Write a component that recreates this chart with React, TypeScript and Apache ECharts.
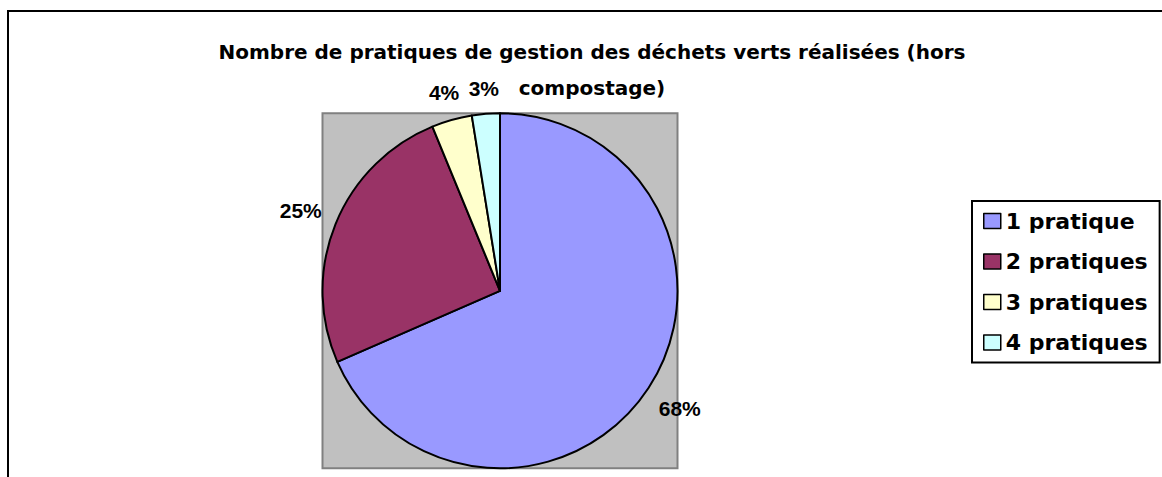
import React, { useEffect, useRef } from "react";
import * as echarts from "echarts";

const titleLines = [
  "Nombre de pratiques de gestion des déchets verts réalisées (hors",
  "compostage)",
];
const categories = ["1 pratique", "2 pratiques", "3 pratiques", "4 pratiques"];
const values = [68.45, 25.33, 3.68, 2.54];
const colors = ["#9999FF", "#993366", "#FFFFCC", "#CCFFFF"];

const CX = 500;
const CY = 290.8;
const R = 177.5;

export default function App() {
  const ref = useRef<HTMLDivElement>(null);
  useEffect(() => {
    if (!ref.current) return;
    const chart = echarts.init(ref.current, undefined, { renderer: "svg" });
    const total = values.reduce((a, b) => a + b, 0);
    const option: any = {
      animation: false,
      backgroundColor: "#FFFFFF",
      title: {
        text: titleLines.join("\n"),
        left: 592,
        top: 34,
        padding: 0,
        textAlign: "center",
        textStyle: {
          fontFamily: "DejaVu Sans",
          fontWeight: "bold",
          fontSize: 20,
          lineHeight: 36,
          color: "#000",
        },
      },
      legend: {
        orient: "vertical",
        left: 972,
        top: 201,
        padding: [9, 12, 9, 11],
        itemGap: 18.5,
        itemWidth: 17,
        itemHeight: 15,
        borderColor: "#000",
        borderWidth: 2,
        backgroundColor: "#FFFFFF",
        icon: "rect",
        itemStyle: { borderColor: "#000", borderWidth: 1.5 },
        textStyle: {
          fontFamily: "DejaVu Sans",
          fontWeight: "bold",
          fontSize: 22,
          color: "#000",
        },
        data: categories,
      },
      graphic: [
        {
          type: "rect",
          z: -10,
          shape: { x: 8, y: 11, width: 1300, height: 600 },
          style: { fill: "none", stroke: "#000", lineWidth: 2 },
        },
        {
          type: "rect",
          z: -5,
          shape: { x: CX - R, y: CY - R, width: 2 * R, height: 2 * R },
          style: { fill: "#C0C0C0", stroke: "#808080", lineWidth: 2 },
        },
      ],
      series: [
        {
          type: "pie",
          z: 5,
          center: [CX, CY],
          radius: R,
          startAngle: 90,
          clockwise: true,
          avoidLabelOverlap: false,
          itemStyle: { borderColor: "#000", borderWidth: 2 },
          emphasis: { disabled: true },
          labelLine: { show: false },
          label: {
            show: true,
            position: "outside",
            formatter: (p: any) => Math.round(p.percent) + "%",
            fontFamily: "Liberation Sans, Arial",
            fontWeight: "bold",
            fontSize: 21,
            color: "#000",
          },
          labelLayout: (params: any) => {
            const idx = params.dataIndex;
            let cum = 0;
            for (let i = 0; i < idx; i++) cum += values[i];
            const mid = ((cum + values[idx] / 2) / total) * Math.PI * 2;
            const s = Math.sin(mid);
            const c = Math.cos(mid);
            const w = params.labelRect.width;
            const h = params.labelRect.height;
            const d = R + 14 + (w / 2) * Math.abs(s) + (h / 2) * Math.abs(c);
            return {
              x: CX + d * s,
              y: CY - d * c,
              align: "center",
              verticalAlign: "middle",
            };
          },
          data: categories.map((name, i) => ({
            name,
            value: values[i],
            itemStyle: { color: colors[i] },
          })),
        },
      ],
    };
    chart.setOption(option);
    return () => chart.dispose();
  }, []);
  return (
    <div
      ref={ref}
      style={{ position: "absolute", left: 0, top: 0, width: 1162, height: 477 }}
    />
  );
}
